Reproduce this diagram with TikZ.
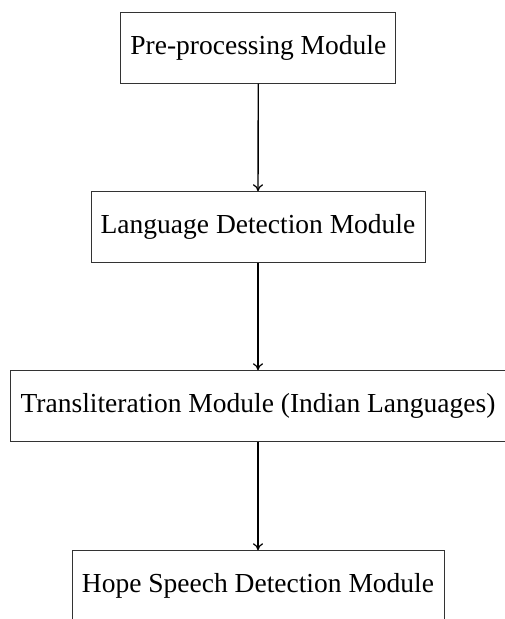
\documentclass[tikz,border=0pt]{standalone}
\usepackage{fontspec}
\setmainfont{Liberation Serif}
\usetikzlibrary{arrows.meta}
\begin{document}
\begin{tikzpicture}[x=1pt,y=1pt,
  modbox/.style={draw=black!80, line width=0.8pt, minimum height=71pt, inner xsep=0pt, anchor=center, font=\fontsize{27.5}{33}\selectfont},
  flow/.style={-{To[length=7pt,width=10pt,line width=1.2pt]}, line width=1.4pt}]
\useasboundingbox (0,0) rectangle (505,619);
\node[modbox, minimum width=275pt] (pre) at (258.3,571.3) {Pre-processing Module};
\node[modbox, minimum width=334pt] (lang) at (258,391.8) {Language Detection Module};
\node[modbox, minimum width=496pt] (trans) at (258,212.8) {Transliteration Module (Indian Languages)};
\node[modbox, minimum width=372pt] (hope) at (258,32.8) {Hope Speech Detection Module};
\draw[flow] (pre.south) -- (lang.north);
\draw[flow] (lang.south) -- (trans.north);
\draw[flow] (trans.south) -- (hope.north);
\end{tikzpicture}
\end{document}
